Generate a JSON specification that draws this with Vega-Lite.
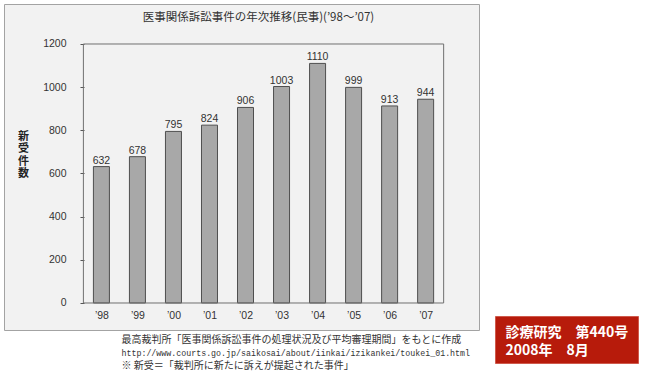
{
  "$schema": "https://vega.github.io/schema/vega-lite/v6.json",
  "padding": {"left": 3, "top": 3, "right": 0, "bottom": 0},
  "background": "white",
  "config": {"view": {"stroke": null}},
  "spacing": 16,
  "bounds": "flush",
  "hconcat": [
    {
      "width": 475,
      "height": 326,
      "view": {"stroke": "#a3a3a3", "fill": "#f2f2f2"},
      "title": {
        "text": "医事関係訴訟事件の年次推移(民事)(’98～’07)",
        "anchor": "middle",
        "frame": "group",
        "offset": -25,
        "baseline": "middle",
        "dx": 17,
        "fontSize": 11.5,
        "fontWeight": "normal",
        "font": "Noto Sans CJK JP",
        "color": "#333333"
      },
      "data": {
        "values": [
          {"year": 1998, "cases": 632},
          {"year": 1999, "cases": 678},
          {"year": 2000, "cases": 795},
          {"year": 2001, "cases": 824},
          {"year": 2002, "cases": 906},
          {"year": 2003, "cases": 1003},
          {"year": 2004, "cases": 1110},
          {"year": 2005, "cases": 999},
          {"year": 2006, "cases": 913},
          {"year": 2007, "cases": 944}
        ]
      },
      "resolve": {"axis": {"x": "independent"}},
      "layer": [
        {
          "mark": {"type": "bar", "orient": "vertical", "size": 16, "fill": "#a8a8a8", "stroke": "#4f4f4f", "strokeWidth": 1},
          "encoding": {
            "x": {
              "field": "year",
              "type": "quantitative",
              "scale": {"domain": [1995.4348, 2008.3424], "nice": false, "zero": false},
              "axis": {
                "orient": "bottom",
                "values": [1998, 1999, 2000, 2001, 2002, 2003, 2004, 2005, 2006, 2007],
                "labelExpr": "'’' + substring(toString(datum.value), 2)",
                "offset": -27,
                "domain": false,
                "ticks": false,
                "grid": false,
                "labelFont": "Liberation Sans",
                "labelFontSize": 10.5,
                "labelColor": "#333333",
                "labelPadding": 7,
                "labelFlush": false,
                "labelOverlap": false,
                "title": "最高裁判所「医事関係訴訟事件の処理状況及び平均審理期間」をもとに作成",
                "titleFont": "Noto Sans CJK JP",
                "titleFontSize": 10,
                "titleFontWeight": "normal",
                "titleColor": "#333333",
                "titleAnchor": "start",
                "titleAlign": "left",
                "titleBaseline": "top",
                "titleX": 117,
                "titleY": 31
              }
            },
            "y": {
              "field": "cases",
              "type": "quantitative",
              "scale": {"domain": [-125.1, 1385.3], "nice": false, "zero": false},
              "axis": {
                "values": [0, 200, 400, 600, 800, 1000, 1200],
                "format": "d",
                "offset": -76,
                "domain": false,
                "grid": false,
                "ticks": true,
                "tickSize": -4,
                "tickColor": "#555555",
                "labelFont": "Liberation Sans",
                "labelFontSize": 10.5,
                "labelColor": "#333333",
                "labelPadding": 18,
                "labelFlush": false,
                "labelOverlap": false,
                "title": ["新", "受", "件", "数"],
                "titleAngle": 0,
                "titleFont": "Noto Sans CJK JP",
                "titleFontSize": 11,
                "titleFontWeight": "bold",
                "titleColor": "#222222",
                "titleLineHeight": 12.5,
                "titleAlign": "center",
                "titleBaseline": "middle",
                "titleX": -57,
                "titleY": 132
              }
            },
            "y2": {"datum": 0}
          }
        },
        {
          "mark": {"type": "text", "baseline": "bottom", "dy": -1, "font": "Liberation Sans", "fontSize": 10.5, "color": "#333333"},
          "encoding": {
            "x": {
              "field": "year",
              "type": "quantitative",
              "axis": {
                "orient": "bottom",
                "offset": -27,
                "domain": false,
                "ticks": false,
                "labels": false,
                "grid": false,
                "title": "※ 新受＝「裁判所に新たに訴えが提起された事件」",
                "titleFont": "Noto Sans CJK JP",
                "titleFontSize": 10,
                "titleFontWeight": "normal",
                "titleColor": "#333333",
                "titleAnchor": "start",
                "titleAlign": "left",
                "titleBaseline": "top",
                "titleX": 117,
                "titleY": 57
              }
            },
            "y": {"field": "cases", "type": "quantitative"},
            "text": {"field": "cases", "type": "quantitative"}
          }
        },
        {
          "data": {"values": [{}]},
          "mark": {"type": "rect", "fill": null, "stroke": "#707070", "strokeWidth": 1},
          "encoding": {
            "x": {
              "datum": 1997.5,
              "type": "quantitative",
              "scale": {"domain": [1995.4348, 2008.3424], "nice": false, "zero": false},
              "axis": {
                "orient": "bottom",
                "offset": -27,
                "domain": false,
                "ticks": false,
                "labels": false,
                "grid": false,
                "title": "http://www.courts.go.jp/saikosai/about/iinkai/izikankei/toukei_01.html",
                "titleFont": "Liberation Mono",
                "titleFontSize": 8.3,
                "titleFontWeight": "normal",
                "titleColor": "#333333",
                "titleAnchor": "start",
                "titleAlign": "left",
                "titleBaseline": "top",
                "titleX": 117,
                "titleY": 45
              }
            },
            "x2": {"datum": 2007.5},
            "y": {"datum": 0, "type": "quantitative"},
            "y2": {"datum": 1200}
          }
        }
      ]
    },
    {
      "spacing": 0,
      "bounds": "flush",
      "vconcat": [
        {
          "width": 143,
          "height": 312,
          "data": {"values": [{}]},
          "mark": {"type": "text", "text": ""}
        },
        {
          "width": 143,
          "height": 47,
          "view": {"fill": "#b71b0b", "stroke": "#cf5a4c"},
          "data": {"values": [{}]},
          "mark": {
            "type": "text",
            "text": ["診療研究　第440号", "2008年　8月"],
            "align": "left",
            "baseline": "middle",
            "dx": -61,
            "dy": -6.5,
            "lineHeight": 18,
            "font": "Noto Sans CJK JP",
            "fontSize": 14,
            "fontWeight": "bold",
            "color": "white"
          }
        }
      ]
    }
  ]
}
